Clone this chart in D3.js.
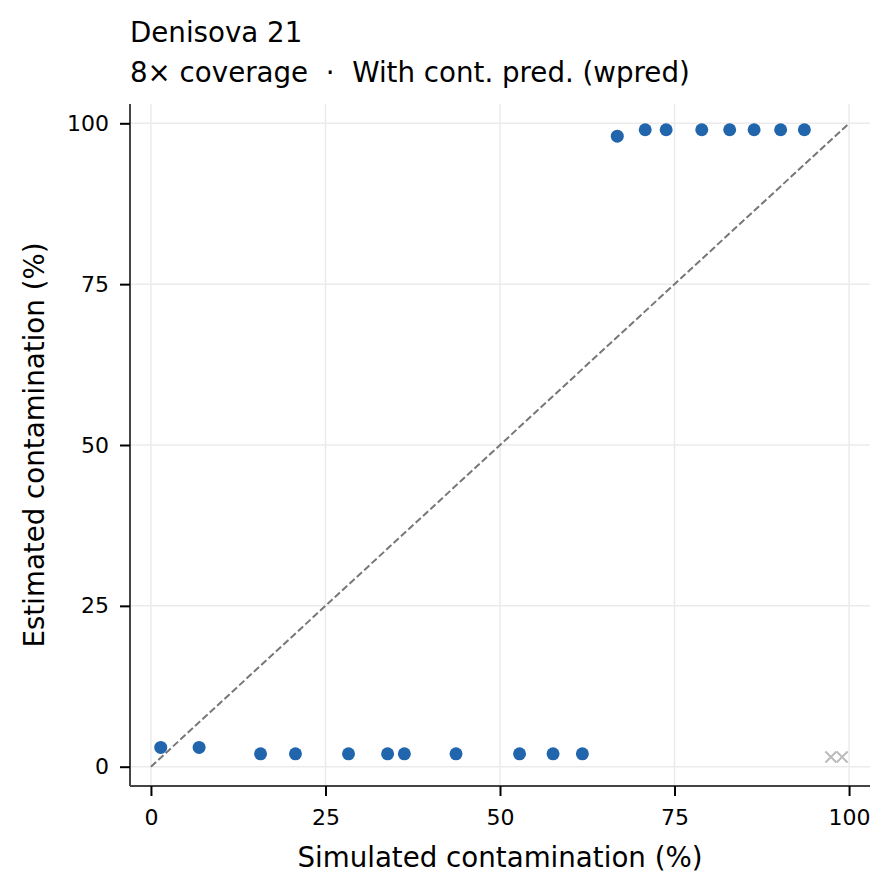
<!DOCTYPE html>
<html>
<head>
<meta charset="utf-8">
<script src="https://cdn.jsdelivr.net/npm/d3@7"></script>
<style>
  body { margin: 0; background: #fff; }
  text { font-family: "DejaVu Sans", sans-serif; }
</style>
</head>
<body>
<script>
// simulated vs estimated contamination (%)
const simulated = [1.4, 6.9, 15.7, 20.7, 28.3, 33.9, 36.3, 43.7, 52.8, 57.6, 61.8,
                   66.8, 70.8, 73.8, 78.9, 82.9, 86.4, 90.2, 93.6];
const estimated = [3, 3, 2, 2, 2, 2, 2, 2, 2, 2, 2,
                   98, 99, 99, 99, 99, 99, 99, 99];
// failed runs (drawn as grey crosses)
const failedSim = [97.4, 99.0];
const failedEst = [1.5, 1.5];
const ticks = [0, 25, 50, 75, 100];

const width = 894, height = 893;
const margin = {top: 104, right: 24, bottom: 107, left: 130};

const svg = d3.select("body").append("svg")
    .attr("width", width).attr("height", height);

const x = d3.scaleLinear().domain([-3, 103]).range([margin.left, width - margin.right]);
const y = d3.scaleLinear().domain([-3, 103]).range([height - margin.bottom, margin.top]);

// grid
const grid = svg.append("g");
grid.selectAll(".gx").data(ticks).enter().append("line")
    .attr("x1", d => x(d)).attr("x2", d => x(d))
    .attr("y1", y.range()[0]).attr("y2", y.range()[1])
    .attr("stroke", "#ebebeb").attr("stroke-width", 1.5);
grid.selectAll(".gy").data(ticks).enter().append("line")
    .attr("y1", d => y(d)).attr("y2", d => y(d))
    .attr("x1", x.range()[0]).attr("x2", x.range()[1])
    .attr("stroke", "#ebebeb").attr("stroke-width", 1.5);

// identity line
svg.append("line")
    .attr("x1", x(0)).attr("y1", y(0))
    .attr("x2", x(100)).attr("y2", y(100))
    .attr("stroke", "#777").attr("stroke-width", 2)
    .attr("stroke-dasharray", "7,3");

// axes
const xAxis = svg.append("g")
    .attr("transform", `translate(0,${height - margin.bottom})`)
    .call(d3.axisBottom(x).tickValues(ticks).tickSize(10).tickPadding(13));
const yAxis = svg.append("g")
    .attr("transform", `translate(${margin.left},0)`)
    .call(d3.axisLeft(y).tickValues(ticks).tickSize(10).tickPadding(11));

[xAxis, yAxis].forEach(a => {
    a.select(".domain").attr("stroke", "#444").attr("stroke-width", 2);
    a.selectAll(".tick line").attr("stroke", "#000").attr("stroke-width", 2);
    a.selectAll(".tick text").attr("font-size", 22).attr("fill", "#000")
        .style("font-family", "DejaVu Sans");
});
xAxis.select(".domain").attr("d", `M${x.range()[0]},0H${x.range()[1]}`);
yAxis.select(".domain").attr("d", `M0,${y.range()[0]}V${y.range()[1]}`);

// points
svg.append("g").selectAll("circle")
    .data(simulated)
    .enter().append("circle")
    .attr("cx", d => x(d))
    .attr("cy", (d, i) => y(estimated[i]))
    .attr("r", 6.5)
    .attr("fill", "#2166ac");

// failed crosses
const s = 5.5;
svg.append("g").selectAll("path")
    .data(failedSim)
    .enter().append("path")
    .attr("d", (d, i) => {
        const cx = x(d), cy = y(failedEst[i]);
        return `M${cx - s},${cy - s}L${cx + s},${cy + s}M${cx - s},${cy + s}L${cx + s},${cy - s}`;
    })
    .attr("stroke", "#bbb").attr("stroke-width", 2).attr("fill", "none");

// labels
svg.append("text")
    .attr("x", (x.range()[0] + x.range()[1]) / 2).attr("y", 867)
    .attr("text-anchor", "middle").attr("font-size", 27.7)
    .text("Simulated contamination (%)");
svg.append("text")
    .attr("transform", `translate(44,${(y.range()[0] + y.range()[1]) / 2}) rotate(-90)`)
    .attr("text-anchor", "middle").attr("font-size", 27.7)
    .text("Estimated contamination (%)");

// titles
svg.append("text").attr("x", 130).attr("y", 42).attr("font-size", 27.7)
    .text("Denisova 21");
svg.append("text").attr("x", 130).attr("y", 82).attr("font-size", 27.7)
    .text("8× coverage  ·  With cont. pred. (wpred)")
    .style("white-space", "pre");
</script>
</body>
</html>
